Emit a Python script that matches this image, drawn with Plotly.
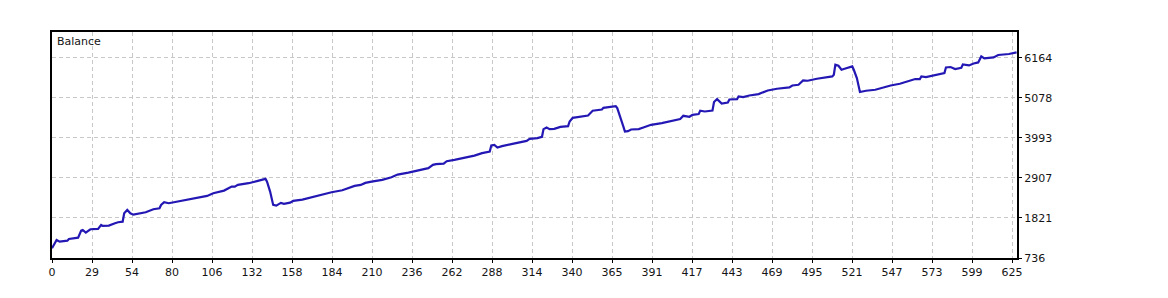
import plotly.graph_objects as go

# Trade index (x) and balance (y)
trade_index = [0, 3, 5, 10, 11, 17, 19, 20, 22, 25, 30, 32, 33, 37, 41, 43, 46, 47, 49, 51,
               53, 56, 61, 66, 70, 71, 73, 76, 81, 88, 94, 101, 105, 112, 117, 119, 121, 128,
               134, 139, 140, 142, 144, 146, 149, 151, 155, 157, 163, 169, 176, 182, 189, 195,
               197, 201, 204, 208, 215, 221, 225, 232, 238, 245, 248, 250, 255, 257, 262, 269,
               275, 280, 285, 286, 288, 290, 293, 299, 304, 309, 311, 316, 319, 320, 322, 324,
               327, 331, 336, 337, 339, 344, 349, 352, 358, 359, 367, 368, 370, 372, 373, 375,
               377, 382, 385, 390, 397, 403, 409, 411, 415, 417, 421, 422, 425, 430, 431, 433,
               436, 440, 441, 446, 447, 450, 454, 460, 466, 472, 480, 482, 486, 489, 492, 498,
               502, 508, 509, 510, 512, 514, 516, 521, 522, 524, 526, 530, 536, 541, 546, 552,
               557, 562, 565, 566, 569, 576, 581, 582, 585, 588, 592, 593, 597, 600, 603, 605,
               607, 613, 616, 623, 628]
balance = [1000, 1225, 1178, 1206, 1252, 1287, 1477, 1496, 1423, 1515, 1523, 1632, 1604, 1613,
           1678, 1705, 1721, 1949, 2039, 1949, 1911, 1930, 1976, 2058, 2085, 2174, 2248, 2221,
           2264, 2310, 2356, 2419, 2492, 2563, 2671, 2671, 2717, 2763, 2826, 2880, 2807, 2535,
           2174, 2155, 2229, 2202, 2237, 2283, 2318, 2383, 2454, 2519, 2573, 2663, 2690, 2717,
           2772, 2807, 2853, 2926, 2997, 3051, 3105, 3170, 3260, 3279, 3295, 3360, 3396, 3458,
           3512, 3578, 3621, 3784, 3803, 3730, 3768, 3822, 3865, 3911, 3966, 3985, 4020, 4229,
           4272, 4229, 4237, 4291, 4310, 4435, 4536, 4563, 4598, 4726, 4761, 4807, 4853, 4799,
           4571, 4299, 4164, 4175, 4218, 4229, 4272, 4346, 4392, 4454, 4500, 4590, 4563, 4617,
           4636, 4726, 4707, 4734, 4962, 5043, 4924, 4951, 5032, 5043, 5114, 5097, 5141, 5179,
           5277, 5323, 5358, 5412, 5431, 5548, 5540, 5594, 5621, 5657, 5703, 5974, 5947, 5838,
           5865, 5928, 5838, 5613, 5233, 5268, 5296, 5358, 5412, 5458, 5521, 5586, 5586, 5657,
           5640, 5711, 5749, 5901, 5912, 5857, 5893, 5982, 5955, 6009, 6036, 6199, 6145, 6172,
           6237, 6264, 6308]

x_tick_labels = [0, 29, 54, 80, 106, 132, 158, 184, 210, 236, 262, 288, 314, 340, 365, 391,
                 417, 443, 469, 495, 521, 547, 573, 599, 625]
y_tick_values = [736, 1821, 2907, 3993, 5078, 6164]

x_step = 625 / 24
x_tickvals = [i * x_step for i in range(len(x_tick_labels))]

font = dict(family="DejaVu Sans", size=11, color="#141414")
grid_color = "#c8c8c8"

fig = go.Figure()
fig.add_trace(go.Scatter(
    x=trade_index, y=balance, mode="lines",
    line=dict(color="#2418b4", width=2.2),
    hoverinfo="skip", showlegend=False,
))

fig.update_layout(
    width=1168, height=298,
    margin=dict(l=52, r=151, t=32, b=40),
    paper_bgcolor="white", plot_bgcolor="white",
    font=font,
    showlegend=False,
    annotations=[dict(
        text="Balance", xref="paper", yref="paper", x=0, y=1,
        xanchor="left", yanchor="top", xshift=3, yshift=-1,
        showarrow=False, font=font,
    )],
)

fig.update_xaxes(
    range=[0, 965 / (960 / 625)],
    tickvals=x_tickvals, ticktext=[str(v) for v in x_tick_labels],
    showgrid=True, gridcolor=grid_color, griddash="4px,3px", gridwidth=1,
    showline=True, linecolor="#000000", linewidth=2, mirror=True,
    ticks="outside", ticklen=3, tickcolor="#000000",
    zeroline=False, fixedrange=True,
)
fig.update_yaxes(
    range=[736, 6861], side="right",
    tickvals=y_tick_values, ticktext=[str(v) for v in y_tick_values],
    showgrid=True, gridcolor=grid_color, griddash="4px,3px", gridwidth=1,
    showline=True, linecolor="#000000", linewidth=2, mirror=True,
    ticks="outside", ticklen=3, tickcolor="#000000",
    zeroline=False, fixedrange=True,
)

fig.write_html("out.html", config={"displayModeBar": False, "staticPlot": True})
